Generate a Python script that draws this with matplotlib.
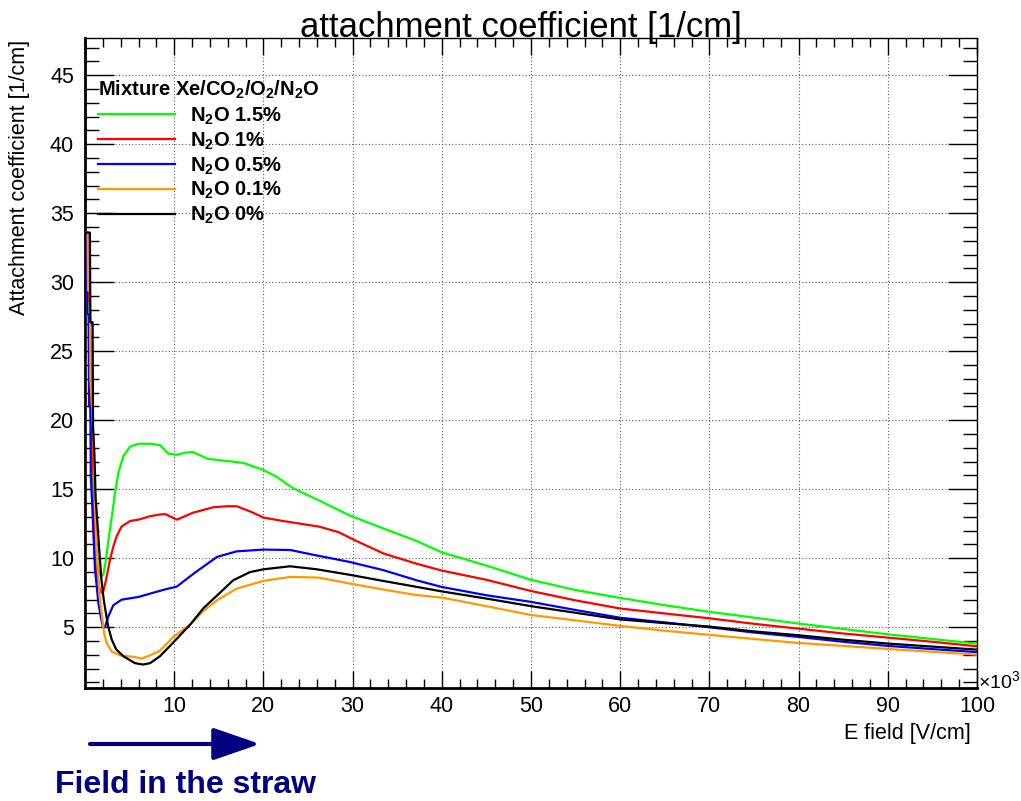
import matplotlib
matplotlib.use("Agg")
import matplotlib.pyplot as plt
from matplotlib.lines import Line2D
from matplotlib.ticker import MultipleLocator

plt.rcParams["font.family"] = ["Liberation Sans", "DejaVu Sans"]
plt.rcParams["mathtext.fontset"] = "custom"
plt.rcParams["mathtext.rm"] = "Liberation Sans"
plt.rcParams["mathtext.bf"] = "Liberation Sans:bold"

# E field in units of 10^3 V/cm, attachment coefficient in 1/cm
E_green = [0, 0.3, 0.35, 0.55, 0.6, 0.75, 0.9, 1.12, 1.31, 1.49, 1.76, 2.05, 2.35, 2.62,
           3.0, 3.36, 3.74, 4.3, 5.05, 6.0, 7.4, 8.4, 9.3, 10.3, 11.2, 12.1, 13.8, 16.6,
           17.8, 20, 21.5, 23.4, 26.2, 29.7, 33.5, 37.2, 40, 45, 50, 55, 60, 65, 70, 75,
           80, 85, 90, 95, 100]
A_green = [33.6, 33.6, 28.0, 28.0, 22.0, 17.6, 14.5, 12.3, 10.4, 9.15, 8.7, 8.8, 9.9, 11.3,
           13.0, 14.7, 16.2, 17.4, 18.1, 18.3, 18.3, 18.2, 17.6, 17.5, 17.65, 17.7, 17.2, 17.0,
           16.9, 16.4, 15.9, 15.05, 14.2, 13.1, 12.15, 11.25, 10.43, 9.47, 8.44, 7.7, 7.13, 6.6,
           6.12, 5.7, 5.27, 4.88, 4.49, 4.15, 3.82]

E_red = [0, 0.3, 0.35, 0.55, 0.6, 0.75, 0.95, 1.12, 1.31, 1.55, 1.76, 2.05, 2.35, 2.8,
         3.2, 3.55, 4.1, 5.05, 6.0, 7.3, 8.4, 9.0, 10.3, 12.1, 14.4, 15.9, 17.0, 18.5, 20,
         22.2, 26.2, 28.4, 30.6, 33.5, 37.2, 40, 45, 50, 55, 60, 65, 70, 75, 80, 85, 90,
         95, 100]
A_red = [33.6, 33.6, 28.6, 28.6, 22.0, 19.0, 16.0, 10.0, 9.0, 8.0, 7.5, 7.6, 8.4, 9.9,
         10.9, 11.6, 12.3, 12.7, 12.8, 13.05, 13.17, 13.2, 12.8, 13.3, 13.7, 13.77, 13.77, 13.4, 12.95,
         12.7, 12.3, 11.9, 11.2, 10.34, 9.6, 9.11, 8.44, 7.63, 6.95, 6.36, 6.0, 5.65, 5.25, 4.9, 4.55, 4.25,
         3.95, 3.62]

E_blue = [0, 0.2, 0.25, 0.4, 0.45, 0.6, 0.65, 0.8, 0.93, 1.12, 1.31, 1.49, 1.76, 2.0, 2.24,
          2.62, 3.18, 4.1, 5.05, 6.0, 7.3, 9.0, 10.3, 12.2, 14.8, 17.0, 20, 23, 26, 29.7,
          33.5, 37.2, 40, 45, 50, 55, 60, 65, 70, 75, 80, 85, 90, 95, 100]
A_blue = [33.6, 33.6, 27.7, 27.7, 21.0, 21.0, 15.9, 14.0, 12.0, 9.2, 8.0, 6.8, 5.8, 5.05, 5.0,
          5.8, 6.6, 7.0, 7.1, 7.2, 7.44, 7.75, 7.95, 8.9, 10.1, 10.5, 10.63, 10.6, 10.2, 9.73,
          9.13, 8.4, 7.92, 7.32, 6.84, 6.25, 5.69, 5.35, 5.0, 4.62, 4.3, 3.95, 3.65, 3.42, 3.2]

E_orange = [0, 0.3, 0.35, 0.55, 0.6, 0.8, 0.95, 1.1, 1.3, 1.5, 1.68, 1.87, 2.13, 2.43, 3.0,
            4.0, 5.6, 6.3, 7.3, 8.4, 9.9, 11.8, 13.3, 14.8, 17.0, 20, 23, 26.2, 29.7, 33.5,
            37, 40, 45, 50, 55, 60, 65, 70, 75, 80, 85, 90, 95, 100]
A_orange = [33.6, 33.6, 29.4, 29.4, 23.0, 21.0, 18.5, 14.0, 10.5, 8.6, 7.0, 6.0, 4.6, 3.85, 3.24,
            2.95, 2.85, 2.73, 2.97, 3.3, 4.3, 5.2, 6.2, 6.96, 7.8, 8.36, 8.65, 8.6, 8.17, 7.73,
            7.35, 7.15, 6.53, 5.89, 5.5, 5.1, 4.75, 4.45, 4.15, 3.86, 3.65, 3.43, 3.22, 3.02]

E_black = [0, 0.55, 0.6, 0.85, 0.9, 1.05, 1.2, 1.45, 1.65, 1.85, 2.1, 2.35, 2.6, 3.0, 3.5,
           4.3, 5.6, 6.5, 7.3, 8.4, 9.9, 11.8, 13.3, 14.8, 16.6, 18.5, 20, 23, 26, 29.7,
           33.5, 37, 40, 45, 50, 55, 60, 65, 70, 75, 80, 85, 90, 95, 100]
A_black = [33.6, 33.6, 27.1, 27.1, 19.5, 17.6, 14.3, 12.0, 10.1, 8.4, 7.0, 6.0, 5.05, 4.1, 3.4,
           2.9, 2.4, 2.3, 2.4, 2.9, 3.9, 5.2, 6.4, 7.3, 8.4, 9.0, 9.2, 9.42, 9.2, 8.8,
           8.35, 7.95, 7.6, 7.08, 6.53, 6.05, 5.57, 5.3, 5.05, 4.7, 4.42, 4.1, 3.82, 3.6, 3.38]

LABELS = ["N$_\\mathbf{2}$O 1.5%", "N$_\\mathbf{2}$O 1%", "N$_\\mathbf{2}$O 0.5%",
          "N$_\\mathbf{2}$O 0.1%", "N$_\\mathbf{2}$O 0%"]
COLORS = ["#00ff00", "#ff0000", "#0000ff", "#ff9900", "#000000"]
NAVY = "#000080"

YMIN, YMAX = 0.6, 47.7

fig = plt.figure(figsize=(10.21, 8.01), dpi=100)
ax = fig.add_axes([85 / 1021, 1 - 688 / 801, 892 / 1021, 650 / 801])

series = [(E_green, A_green), (E_red, A_red), (E_blue, A_blue),
          (E_orange, A_orange), (E_black, A_black)]
# draw order: green, red, orange, black, blue on top
for i in [0, 1, 3, 4, 2]:
    e, a = series[i]
    ax.plot(e, a, color=COLORS[i], lw=1.6, zorder=3 + i * 0.1)
    ax.vlines(e[0], YMIN, a[0], color=COLORS[i], lw=1.6, zorder=3 + i * 0.1)

ax.set_xlim(0, 100)
ax.set_ylim(YMIN, YMAX)
ax.set_xticks(range(0, 101, 10))
ax.set_xticklabels([""] + [str(v) for v in range(10, 101, 10)])
ax.xaxis.set_minor_locator(MultipleLocator(2))
ax.set_yticks(range(5, 46, 5))
ax.yaxis.set_minor_locator(MultipleLocator(1))
ax.tick_params(axis="both", which="both", direction="in", top=True, right=True,
               labelsize=15.5, colors="black")
ax.tick_params(axis="x", which="major", length=12, width=1, pad=6)
ax.tick_params(axis="x", which="minor", length=6.5, width=1)
ax.tick_params(axis="y", which="major", length=21, width=1, pad=8)
ax.tick_params(axis="y", which="minor", length=10, width=1)
ax.grid(True, which="major", linestyle=(0, (1, 2)), color="0.35", lw=0.8)
ax.set_axisbelow(True)
for side in ["top", "right"]:
    ax.spines[side].set_linewidth(1.0)
for side in ["left", "bottom"]:
    ax.spines[side].set_linewidth(2.0)

handles = [Line2D([], [], color=c, lw=1.6) for c in COLORS]
leg = ax.legend(handles, LABELS, loc="upper left", bbox_to_anchor=(0.015, 0.937),
                frameon=False, borderpad=0, borderaxespad=0,
                title="Mixture Xe/CO$_\\mathbf{2}$/O$_\\mathbf{2}$/N$_\\mathbf{2}$O",
                title_fontproperties={"weight": "bold", "size": 14.5},
                prop={"weight": "bold", "size": 14.5}, alignment="left",
                handlelength=3.8, handletextpad=0.75, labelspacing=0.18)
leg._legend_box.sep = 3

fig.text(0.51, 1 - 37 / 801, "attachment coefficient [1/cm]", ha="center",
         va="baseline", fontsize=25)
fig.text(20 / 1021, 1 - 40 / 801, "Attachment coefficient [1/cm]", rotation=90,
         ha="center", va="top", fontsize=15.5)
fig.text(971 / 1021, 1 - 733 / 801, "E field [V/cm]", ha="right", va="center",
         fontsize=15.5)
fig.text(978 / 1021, 1 - 682 / 801, "\u00d710$^3$", ha="left", va="center",
         fontsize=14)

ax.annotate("", xy=(260, 801 - 744), xytext=(90, 801 - 744), xycoords="figure pixels",
            textcoords="figure pixels",
            arrowprops=dict(arrowstyle="-|>,head_length=29,head_width=10",
                            mutation_scale=1, lw=3, color=NAVY,
                            shrinkA=0, shrinkB=0))
fig.text(55 / 1021, 1 - 785 / 801, "Field in the straw", ha="left", va="center",
         fontsize=23, weight="bold", color=NAVY)

fig.savefig("out.png", dpi=100)
